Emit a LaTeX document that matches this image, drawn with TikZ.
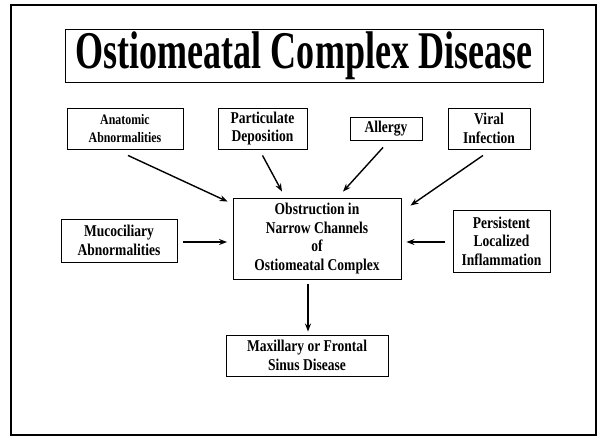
\documentclass[tikz,border=0pt]{standalone}
\usepackage{fontspec}
\setmainfont[FakeStretch=0.82]{Liberation Serif}
\newfontfamily\titlefont[FakeStretch=0.68]{Liberation Serif}
\usetikzlibrary{arrows.meta,calc}
\begin{document}
\begin{tikzpicture}[x=1pt,y=-1pt,
  box/.style={draw,line width=0.9pt,align=center,inner sep=0pt,font=\bfseries\fontsize{16.5}{18.5}\selectfont},
  arr/.style={line width=1.4pt,-{Stealth[length=8pt,width=6pt]}}]
\useasboundingbox (0,0) rectangle (602,445);
\draw[line width=2.8pt] (11,5) rectangle (596,435);
\node[draw,line width=0.9pt,inner sep=0pt,minimum width=478pt,minimum height=53pt,font=\titlefont\bfseries\fontsize{53}{56}\selectfont] (title) at (304,55.5) {Ostiomeatal Complex Disease};
\node[box,minimum width=116pt,minimum height=41pt,font=\bfseries\fontsize{14.5}{17.3}\selectfont] (anat) at (125,128.5) {Anatomic\\Abnormalities};
\node[box,minimum width=89pt,minimum height=41pt] (part) at (262.5,128.5) {Particulate\\Deposition};
\node[box,minimum width=72pt,minimum height=23pt] (allergy) at (386,128.5) {Allergy};
\node[box,minimum width=82pt,minimum height=41pt] (viral) at (489,128.5) {Viral\\Infection};
\node[box,minimum width=168pt,minimum height=81pt] (center) at (317,238.5) {Obstruction in\\Narrow Channels\\of\\Ostiomeatal Complex};
\node[box,minimum width=116pt,minimum height=43pt] (muco) at (119,240.5) {Mucociliary\\Abnormalities};
\node[box,minimum width=97pt,minimum height=62pt] (pers) at (501.5,241) {Persistent\\Localized\\Inflammation};
\node[box,minimum width=162pt,minimum height=41pt] (bottom) at (307,355.5) {Maxillary or Frontal\\Sinus Disease};
\draw[arr] ($(anat.south)+(3,6)$) -- ($(center.north west)+(-5,4)$);
\draw[arr] ($(part.south)+(0,6)$) -- ($(center.north)+(-35,-6)$);
\draw[arr] ($(allergy.south)+(-3,7)$) -- ($(center.north)+(26,-6)$);
\draw[arr] ($(viral.south)+(-6,6)$) -- ($(center.north east)+(9,8)$);
\draw[arr] ($(muco.east)+(6,1.5)$) -- ($(center.west)+(-5.5,3.5)$);
\draw[arr] ($(pers.west)+(-8,1)$) -- ($(center.east)+(5,3.5)$);
\draw[arr] ($(center.south)+(-9,5)$) -- ($(bottom.north)+(1,-3)$);
\end{tikzpicture}
\end{document}
